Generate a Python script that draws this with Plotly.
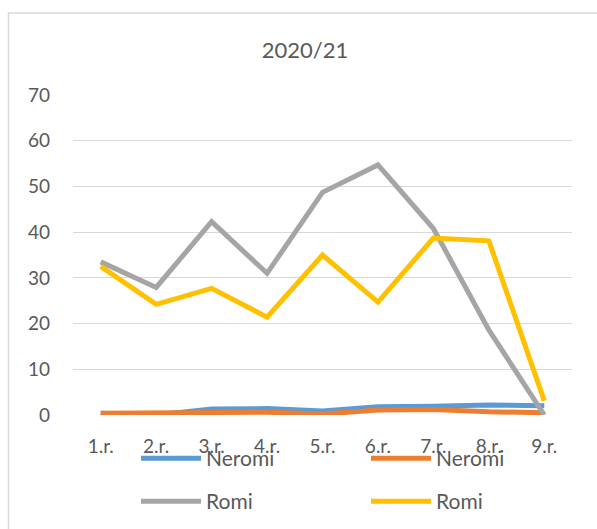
import plotly.graph_objects as go

categories = ["1.r.", "2.r.", "3.r.", "4.r.", "5.r.", "6.r.", "7.r.", "8.r.", "9.r."]
neromi_a = [0.4, 0.0, 1.3, 1.4, 0.9, 1.8, 1.9, 2.2, 2.0]
neromi_b = [0.4, 0.4, 0.4, 0.6, 0.2, 1.1, 1.2, 0.7, 0.5]
romi_a = [33.5, 27.9, 42.3, 31.0, 48.7, 54.7, 40.8, 18.6, 0.0]
romi_b = [32.5, 24.2, 27.7, 21.4, 35.0, 24.7, 38.7, 38.1, 3.1]
series_names = ["Neromi", "Neromi", "Romi", "Romi"]
colors = ["#5B9BD5", "#ED7D31", "#A5A5A5", "#FFC000"]
y_ticks = [0, 10, 20, 30, 40, 50, 60, 70]

FONT = "Lato, 'Open Sans', sans-serif"
TXT = "#595959"

# legend placement (pixels): column left edges and row centres
leg_ids = ["legend", "legend2", "legend3", "legend4"]
leg_px = [(136, 458), (366, 458), (136, 501), (366, 501)]

fig = go.Figure()
for vals, name, col, leg in zip([neromi_a, neromi_b, romi_a, romi_b], series_names, colors, leg_ids):
    fig.add_trace(go.Scatter(x=categories, y=vals, name=name, mode="lines",
                             line=dict(color=col, width=5), legend=leg, showlegend=True))

legends = {}
for lid, (px, py) in zip(leg_ids, leg_px):
    legends[lid] = dict(orientation="h", x=(px - 73) / 499, y=(414.5 - py) / 320,
                        xanchor="left", yanchor="middle", itemwidth=60,
                        font=dict(family=FONT, size=21, color=TXT),
                        bgcolor="rgba(0,0,0,0)", visible=True)

fig.update_layout(
    width=597, height=529, showlegend=True,
    margin=dict(l=73, r=25, t=95, b=114, autoexpand=False),
    paper_bgcolor="white", plot_bgcolor="white",
    font=dict(family=FONT, size=19, color=TXT),
    title=dict(text="2020/21", x=305/597, xref="container", xanchor="center",
               y=1 - 50/529, yref="container", yanchor="middle",
               font=dict(family=FONT, size=22, color=TXT)),
    xaxis=dict(type="category", range=[-0.5, 8.5], showgrid=False, showline=False,
               zeroline=False, ticks="", ticklabelstandoff=18,
               tickfont=dict(family=FONT, size=19, color=TXT)),
    yaxis=dict(range=[0, 70], tickvals=y_ticks, showgrid=True, gridcolor="#D9D9D9",
               gridwidth=1, zeroline=False, showline=False, ticks="",
               ticklabelstandoff=22, tickfont=dict(family=FONT, size=19, color=TXT)),
    shapes=[dict(type="rect", xref="paper", yref="paper",
                 x0=(8.5 - 73) / 499, x1=1.2, y0=-0.5, y1=(414.5 - 12.5) / 320,
                 line=dict(color="#D9D9D9", width=1.5), fillcolor="rgba(0,0,0,0)",
                 layer="below")],
    **legends,
)

fig.write_html("out.html", config={"displayModeBar": False},
               post_script="document.body.style.margin='0px';")
